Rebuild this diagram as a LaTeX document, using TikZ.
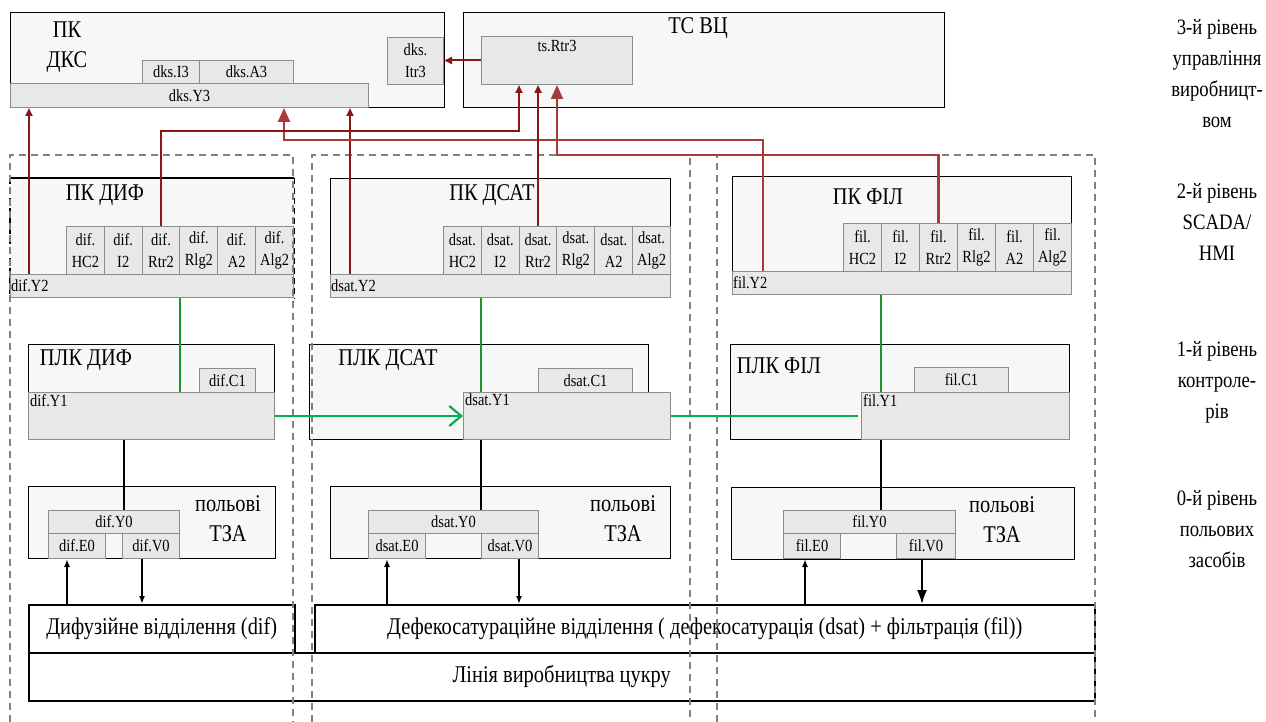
\documentclass[tikz,border=0pt]{standalone}
\usepackage{fontspec}
\setmainfont{Liberation Serif}[FakeStretch=0.85]
\usetikzlibrary{arrows.meta,calc}

\definecolor{panelfill}{RGB}{247,247,247}
\definecolor{cellfill}{RGB}{232,232,232}
\definecolor{celledge}{RGB}{140,140,140}
\definecolor{zonegrey}{RGB}{128,128,128}
\definecolor{linkred}{RGB}{139,22,22}
\definecolor{linkrose}{RGB}{165,60,58}
\definecolor{linkgreen}{RGB}{28,150,48}
\definecolor{busgreen}{RGB}{0,176,80}

\newcommand{\cellsize}{\fontsize{17}{22}\selectfont}
\newcommand{\headsize}{\fontsize{24}{30}\selectfont}
\newcommand{\lvlsize}{\fontsize{22}{31}\selectfont}

\tikzset{
  panel/.style={draw=black, line width=1.3pt, fill=panelfill, inner sep=0pt, anchor=north west},
  cell/.style={draw=celledge, line width=1pt, fill=cellfill, inner sep=0pt, anchor=north west,
               font=\cellsize, align=center},
  dept/.style={draw=black, line width=1.5pt, fill=white, inner sep=0pt, anchor=north west, font=\headsize},
  wh/.style 2 args={minimum width=#1, minimum height=#2},
  head/.style={font=\headsize, align=center, inner sep=0pt},
  lvl/.style={font=\lvlsize, align=center, inner sep=0pt},
  tagtxt/.style={font=\cellsize, inner sep=2pt},
  zone/.style={draw=zonegrey, line width=1.2pt, dash pattern=on 7pt off 5pt},
  redlink/.style={draw=linkred, line width=2pt, -{Triangle[length=8pt,width=7pt]}},
  roselink/.style={draw=linkrose, line width=2.2pt, -{Triangle[length=14pt,width=12pt]}},
  uplink/.style={draw=linkgreen, line width=1.6pt},
  bus/.style={draw=busgreen, line width=2.2pt},
  wire/.style={draw=black, line width=1.6pt}
}

\begin{document}
\begin{tikzpicture}[x=1pt,y=-1pt]
  \fill[white] (0,0) rectangle (1266,722);
  \useasboundingbox (0,0) rectangle (1266,722);

  % level 3
  \node[panel, wh={434}{95}] (dksPC) at (10,12) {};
  \node[head] (dksTitle) at (67,47) {ПК\\ДКС};
  \node[cell, wh={57}{23}] (dksI3) at (142,60) {dks.I3};
  \node[cell, wh={94}{23}] (dksA3) at (199,60) {dks.A3};
  \node[cell, wh={358}{24}] (dksY3) at (10,83) {dks.Y3};
  \node[cell, wh={56}{47}] (dksItr3) at (387,37) {dks.\\Itr3};
  \node[panel, wh={481}{95}] (tsVC) at (463,12) {};
  \node[head] (tsTitle) at (698,28) {ТС ВЦ};
  \node[cell, wh={151}{48}] (tsRtr3) at (481,36) {};
  \node[tagtxt, anchor=north, inner sep=4pt] (tsRtr3t) at (tsRtr3.north) {ts.Rtr3};

  % level 2
  \node[panel, draw=none, wh={283}{119}] (difPC) at (10,178) {};
  \draw[line width=1.3pt] (difPC.north west) -- (difPC.north east);
  \draw[line width=1.3pt, dash pattern=on 6pt off 4pt]
    (difPC.north west) -- (difPC.south west) (difPC.north east) -- (difPC.south east);
  \node[head] (difTitle) at (105,195) {ПК ДИФ};
  \node[cell, wh={283}{23}] (difY2) at (10,274) {};
  \node[tagtxt, anchor=west, inner sep=1pt] (difY2t) at (difY2.west) {dif.Y2};
  \node[panel, wh={340}{119}] (dsatPC) at (330,178) {};
  \node[head] (dsatTitle) at (492,195) {ПК ДСАТ};
  \node[cell, wh={340}{23}] (dsatY2) at (330,274) {};
  \node[tagtxt, anchor=west, inner sep=1pt] (dsatY2t) at (dsatY2.west) {dsat.Y2};
  \node[panel, wh={339}{118}] (filPC) at (732,176) {};
  \node[head] (filTitle) at (868,197) {ПК ФІЛ};
  \node[cell, wh={339}{23}] (filY2) at (732,271) {};
  \node[tagtxt, anchor=west, inner sep=1pt] (filY2t) at (filY2.west) {fil.Y2};
  \foreach \grp/\gx/\gy/\gw in {dif/66/226/37.83, dsat/443/226/37.83, fil/843/223/38}
    \foreach \cname [count=\i from 0] in {HC2,I2,Rtr2,Rlg2,A2,Alg2}
      \node[cell, wh={\gw}{48}] (\grp\cname) at (\gx+\gw*\i,\gy) {\grp.\\\cname};

  % level 1
  \node[panel, wh={246}{95}] (difPLC) at (28,344) {};
  \node[head] (difPLCt) at (86,360) {ПЛК ДИФ};
  \node[cell, wh={56}{24}] (difC1) at (199,368) {dif.C1};
  \node[cell, wh={246}{47}] (difY1) at (28,392) {};
  \node[tagtxt, anchor=north west] (difY1t) at (difY1.north west) {dif.Y1};
  \node[panel, wh={339}{95}] (dsatPLC) at (309,344) {};
  \node[head] (dsatPLCt) at (388,360) {ПЛК ДСАТ};
  \node[cell, wh={94}{24}] (dsatC1) at (538,368) {dsat.C1};
  \node[cell, wh={207}{47}] (dsatY1) at (463,392) {};
  \node[tagtxt, anchor=north west] (dsatY1t) at (dsatY1.north west) {dsat.Y1};
  \node[panel, wh={339}{95}] (filPLC) at (730,344) {};
  \node[head] (filPLCt) at (779,366) {ПЛК ФІЛ};
  \node[cell, wh={94}{25}] (filC1) at (914,367) {fil.C1};
  \node[cell, wh={208}{47}] (filY1) at (861,392) {};
  \node[tagtxt, anchor=north west] (filY1t) at (filY1.north west) {fil.Y1};

  % level 0
  \node[panel, wh={247}{72}] (difFD) at (28,486) {};
  \node[head] (difFDt) at (228,519) {польові\\ТЗА};
  \node[cell, wh={131}{23}] (difY0) at (48,510) {dif.Y0};
  \node[cell, wh={57}{25}] (difE0) at (48,533) {dif.E0};
  \node[cell, wh={57}{25}] (difV0) at (122,533) {dif.V0};
  \node[panel, wh={340}{72}] (dsatFD) at (330,486) {};
  \node[head] (dsatFDt) at (623,519) {польові\\ТЗА};
  \node[cell, wh={170}{23}] (dsatY0) at (368,510) {dsat.Y0};
  \node[cell, wh={57}{25}] (dsatE0) at (368,533) {dsat.E0};
  \node[cell, wh={57}{25}] (dsatV0) at (481,533) {dsat.V0};
  \node[panel, wh={343}{72}] (filFD) at (731,487) {};
  \node[head] (filFDt) at (1002,520) {польові\\ТЗА};
  \node[cell, wh={172}{23}] (filY0) at (783,510) {fil.Y0};
  \node[cell, wh={57}{25}] (filE0) at (783,533) {fil.E0};
  \node[cell, wh={59}{25}] (filV0) at (896,533) {fil.V0};

  % plant
  \node[dept, wh={266}{48}] (difDept) at (28,604) {Дифузійне відділення (dif)};
  \node[dept, wh={780}{48}] (defDept) at (314,604)
    {Дефекосатураційне відділення ( дефекосатурація (dsat) + фільтрація (fil))};
  \node[dept, wh={1066}{48}] (sugarLine) at (28,652) {Лінія виробництва цукру};

  % levels
  \node[lvl] (lvl3) at (1217,74) {3-й рівень\\управління\\виробницт-\\вом};
  \node[lvl] (lvl2) at (1217,222) {2-й рівень\\SCADA/\\HMI};
  \node[lvl] (lvl1) at (1217,382) {1-й рівень\\контроле-\\рів};
  \node[lvl] (lvl0) at (1217,529) {0-й рівень\\польових\\засобів};

  % zones
  \draw[zone] (10,722) |- (293,155) -- (293,722);
  \draw[zone] (312,722) |- (690,155) -- (690,722);
  \draw[zone] (717,722) |- (1095,155) -- (1095,722);

  % links
  \coordinate (difRise) at (29,0);
  \coordinate (dsatRise) at (350,0);
  \coordinate (filBend) at (763,140);
  \coordinate (dksIn) at (284,0);
  \coordinate (tsIn) at (519,131);
  \coordinate (tsInFil) at (557,155);
  \coordinate (difLink) at (180,0);
  \coordinate (difDrop) at (124,0);
  \coordinate (difUp) at (67,0);
  \coordinate (difDown) at (142,0);
  \coordinate (dsatUp) at (387,0);
  \coordinate (dsatDown) at (519,0);
  \coordinate (filUp) at (805,0);
  \coordinate (filDown) at (922,0);

  \draw[redlink] (tsRtr3.west) -- (tsRtr3.west -| dksItr3.east);
  \draw[redlink] (difY2.north -| difRise) -- (dksY3.south -| difRise);
  \draw[redlink] (dsatY2.north -| dsatRise) -- (dksY3.south -| dsatRise);
  \draw[roselink] (filY2.north -| filBend) -- (filBend) -| (dksY3.south -| dksIn);
  \draw[redlink] (difRtr2.north) |- (tsIn) -- (tsRtr3.south -| tsIn);
  \draw[redlink] (dsatRtr2.north) -- (tsRtr3.south -| dsatRtr2.north);
  \draw[roselink] (filRtr2.north) |- (tsInFil) -- (tsRtr3.south -| tsInFil);

  \draw[uplink] (difY2.south -| difLink) -- (difY1.north -| difLink);
  \draw[uplink] (dsatY2.south -| dsatI2.west) -- (dsatY1.north -| dsatI2.west);
  \draw[uplink] (filY2.south -| filI2.west) -- (filY1.north -| filI2.west);
  \draw[bus, -{Straight Barb[length=12pt,width=20pt]}] (difY1.east) -- (dsatY1.west);
  \draw[bus, shorten >=3pt] (dsatY1.east) -- (filY1.west);

  \draw[wire] (difY1.south -| difDrop) -- (difY0.north -| difDrop);
  \draw[wire] (dsatY1.south -| dsatI2.west) -- (dsatY0.north -| dsatI2.west);
  \draw[wire] (filY1.south -| filI2.west) -- (filY0.north -| filI2.west);
  \draw[wire, -{Latex[length=8pt,width=6pt]}] (difDept.north -| difUp) -- (difE0.south -| difUp);
  \draw[wire, -{Latex[length=8pt,width=6pt]}] (difV0.south -| difDown) -- (difDept.north -| difDown);
  \draw[wire, -{Latex[length=8pt,width=6pt]}] (defDept.north -| dsatUp) -- (dsatE0.south -| dsatUp);
  \draw[wire, -{Latex[length=8pt,width=6pt]}] (dsatV0.south -| dsatDown) -- (defDept.north -| dsatDown);
  \draw[wire, -{Latex[length=8pt,width=6pt]}] (defDept.north -| filUp) -- (filE0.south -| filUp);
  \draw[wire, -{Latex[length=14pt,width=10pt]}] (filV0.south -| filDown) -- (defDept.north -| filDown);
\end{tikzpicture}
\end{document}
